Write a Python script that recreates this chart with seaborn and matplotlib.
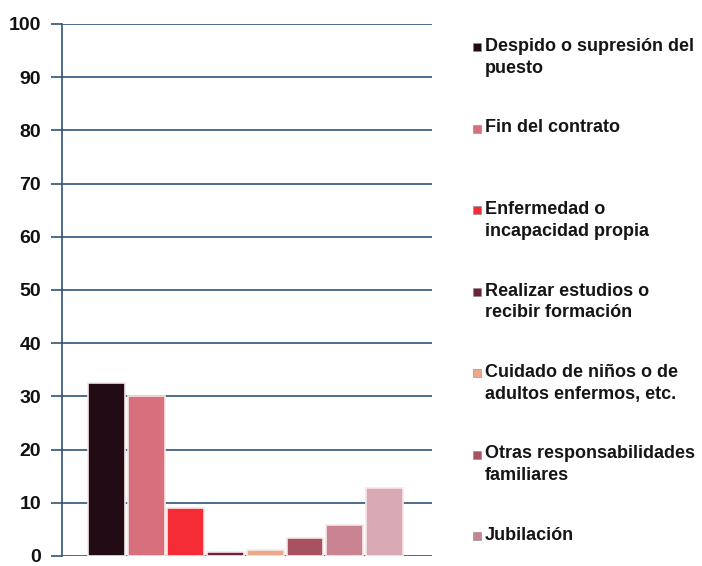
import matplotlib
matplotlib.use("Agg")
import matplotlib.pyplot as plt
import matplotlib.patches as mpatches
import seaborn as sns
import pandas as pd

# Motivos por los que se dejó el último empleo (%)
motivos = [
    "Despido o supresión del\npuesto",
    "Fin del contrato",
    "Enfermedad o\nincapacidad propia",
    "Realizar estudios o\nrecibir formación",
    "Cuidado de niños o de\nadultos enfermos, etc.",
    "Otras responsabilidades\nfamiliares",
    "Jubilación",
    "Otros motivos",
]
porcentajes = [32.5, 30.0, 9.0, 0.8, 1.2, 3.4, 5.8, 12.7]
colores = ["#220b14", "#d7707c", "#f52b36", "#6e2238",
           "#e9a98a", "#a9525f", "#c98391", "#d9aab6"]
en_leyenda = 7
ticks_y = [0, 10, 20, 30, 40, 50, 60, 70, 80, 90, 100]

df = pd.DataFrame({"motivo": motivos, "porcentaje": porcentajes})

sns.set_theme(style="white")
plt.rcParams["font.family"] = ["Liberation Sans", "DejaVu Sans"]

fig = plt.figure(figsize=(7.02, 5.66), dpi=100)
ax = fig.add_axes([62 / 702, 1 - 556 / 566, (432 - 62) / 702, (556 - 24) / 566])

sns.barplot(data=df, x="motivo", y="porcentaje", hue="motivo", palette=colores,
            saturation=1, legend=False, width=0.93, edgecolor="#f6e6e6",
            linewidth=1.2, ax=ax, zorder=3)

grid_color = "#2f5478"
ax.set_ylim(0, 100)
ax.set_xlim(-1.12, 8.2)
ax.set_yticks(ticks_y)
ax.set_yticklabels([str(t) for t in ticks_y], fontsize=14, fontweight="bold",
                   color="#111111")
ax.yaxis.grid(True, color=grid_color, linewidth=1.2, zorder=0)
ax.tick_params(axis="y", length=8, width=1.2, color=grid_color, pad=7, left=True)
ax.set_xticks([])
ax.set_xlabel("")
ax.set_ylabel("")
for side in ["top", "right", "bottom"]:
    ax.spines[side].set_visible(False)
ax.spines["left"].set_color(grid_color)
ax.spines["left"].set_linewidth(1.2)
ax.set_axisbelow(True)

# Leyenda con entradas espaciadas de forma uniforme
y0 = 47
paso = 81.5
for i in range(en_leyenda):
    yc = y0 + i * paso
    fig.patches.append(mpatches.Rectangle(
        (473 / 702, 1 - (yc + 4) / 566), 8 / 702, 8 / 566,
        transform=fig.transFigure, facecolor=colores[i],
        edgecolor="#888888", linewidth=0.4, figure=fig))
    fig.text(485 / 702, 1 - (yc - 9) / 566, motivos[i], ha="left", va="top",
             fontsize=13, fontweight="bold", color="#151515", linespacing=1.35)

fig.savefig("out.png", dpi=100, facecolor="white")
